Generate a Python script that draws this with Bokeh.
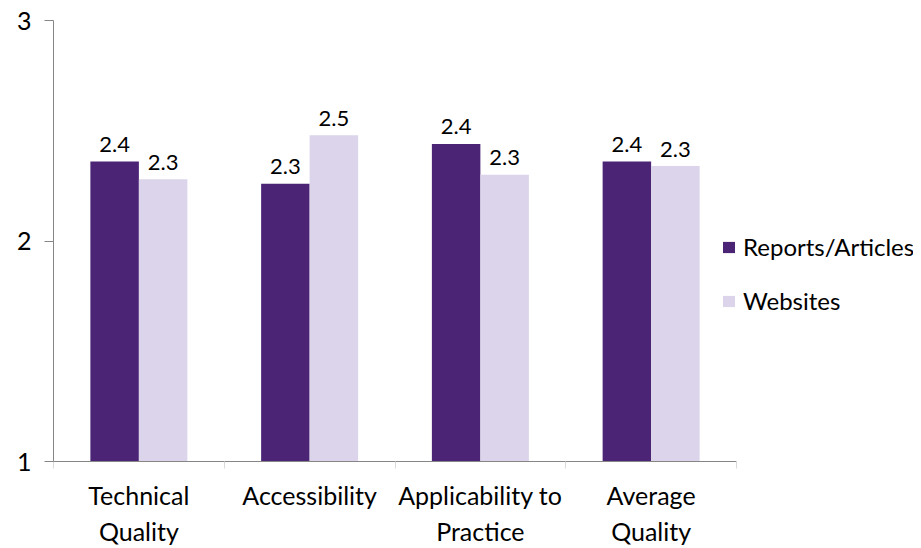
from bokeh.plotting import figure
from bokeh.models import (ColumnDataSource, Range1d, LinearAxis,
                          FixedTicker, Legend, LegendItem,
                          CustomJSTickFormatter)
from bokeh.transform import dodge
from bokeh.core.properties import value
from bokeh.embed import file_html
from bokeh.resources import INLINE

# ---- data ----
categories = ["Technical\nQuality", "Accessibility", "Applicability to\nPractice", "Average\nQuality"]
reports = [2.36, 2.26, 2.44, 2.36]
websites = [2.28, 2.48, 2.30, 2.34]
series_names = ["Reports/Articles", "Websites"]
y_ticks = [1, 2, 3]

FONT = "Lato"
C_REP = "#4B2476"
C_WEB = "#DBD4EA"

n = len(categories)
centers = [i + 0.5 for i in range(n)]

# layout: the category area covers 683 px of an 860 px wide frame,
# the rest on the right holds the legend
W, H = 913, 548
LEFT, TOP, BOTTOM = 53, 20, 81
CAT_W = 683
x_end = n * (W - LEFT) / CAT_W

src = ColumnDataSource(dict(
    xc=centers,
    reports=reports,
    websites=websites,
    reports_lbl=[f"{v:.1f}" for v in reports],
    websites_lbl=[f"{v:.1f}" for v in websites],
))

p = figure(width=W, height=H, output_backend="svg", toolbar_location=None,
           x_range=Range1d(0, x_end), y_range=Range1d(1, 3),
           x_axis_location=None, y_axis_location="left",
           min_border_left=LEFT, min_border_top=TOP, min_border_bottom=BOTTOM,
           min_border_right=0)
p.outline_line_color = None
p.grid.visible = False
p.background_fill_color = "white"
p.border_fill_color = "white"

# y axis
ya = p.yaxis[0]
ya.ticker = FixedTicker(ticks=y_ticks)
ya.axis_line_color = "#868686"
ya.major_tick_line_color = "#868686"
ya.major_tick_in = 0
ya.major_tick_out = 9
ya.minor_tick_line_color = None
ya.major_label_text_font = FONT
ya.major_label_text_font_size = "25px"
ya.major_label_text_color = "black"
ya.major_label_standoff = 13

# separator-tick x axis (category boundaries)
sep_axis = LinearAxis(ticker=FixedTicker(ticks=list(range(n + 1))),
                      bounds=(0, n),
                      formatter=CustomJSTickFormatter(code="return ''"),
                      axis_line_color="#868686",
                      major_tick_line_color="#d9d9d9",
                      major_tick_in=0, major_tick_out=7,
                      minor_tick_line_color=None,
                      major_label_standoff=0,
                      major_label_text_font_size="1px")
p.add_layout(sep_axis, "below")

# category label axis
cat_axis = LinearAxis(ticker=FixedTicker(ticks=centers),
                      bounds=(0, n),
                      formatter=CustomJSTickFormatter(args=dict(labels=categories),
                                                      code="return labels[Math.floor(tick)]"),
                      axis_line_color=None, major_tick_line_color=None,
                      minor_tick_line_color=None,
                      major_label_text_font=FONT,
                      major_label_text_font_size="25px",
                      major_label_text_color="black",
                      major_label_standoff=5)
p.add_layout(cat_axis, "below")

bw = 0.284
r1 = p.vbar(x=dodge("xc", -bw / 2), top="reports", bottom=1,
            width=bw, source=src, fill_color=C_REP, line_color=None)
r2 = p.vbar(x=dodge("xc", bw / 2), top="websites", bottom=1,
            width=bw, source=src, fill_color=C_WEB, line_color=None)

for col, off in (("reports", -bw / 2), ("websites", bw / 2)):
    p.text(x=dodge("xc", off), y=col, text=col + "_lbl",
           source=src, text_align="center", text_baseline="alphabetic",
           y_offset=-17, text_font=value(FONT), text_font_size="22px",
           text_color="black")

legend = Legend(items=[LegendItem(label=series_names[0], renderers=[r1]),
                       LegendItem(label=series_names[1], renderers=[r2])],
                location=(668, 146), border_line_color=None,
                background_fill_alpha=0, padding=0, margin=0,
                glyph_width=15, glyph_height=14, label_standoff=7,
                spacing=25, label_text_font=FONT, label_text_font_size="24px",
                label_text_color="black")
p.add_layout(legend, "center")

open("out.html", "w").write(file_html(p, INLINE))
